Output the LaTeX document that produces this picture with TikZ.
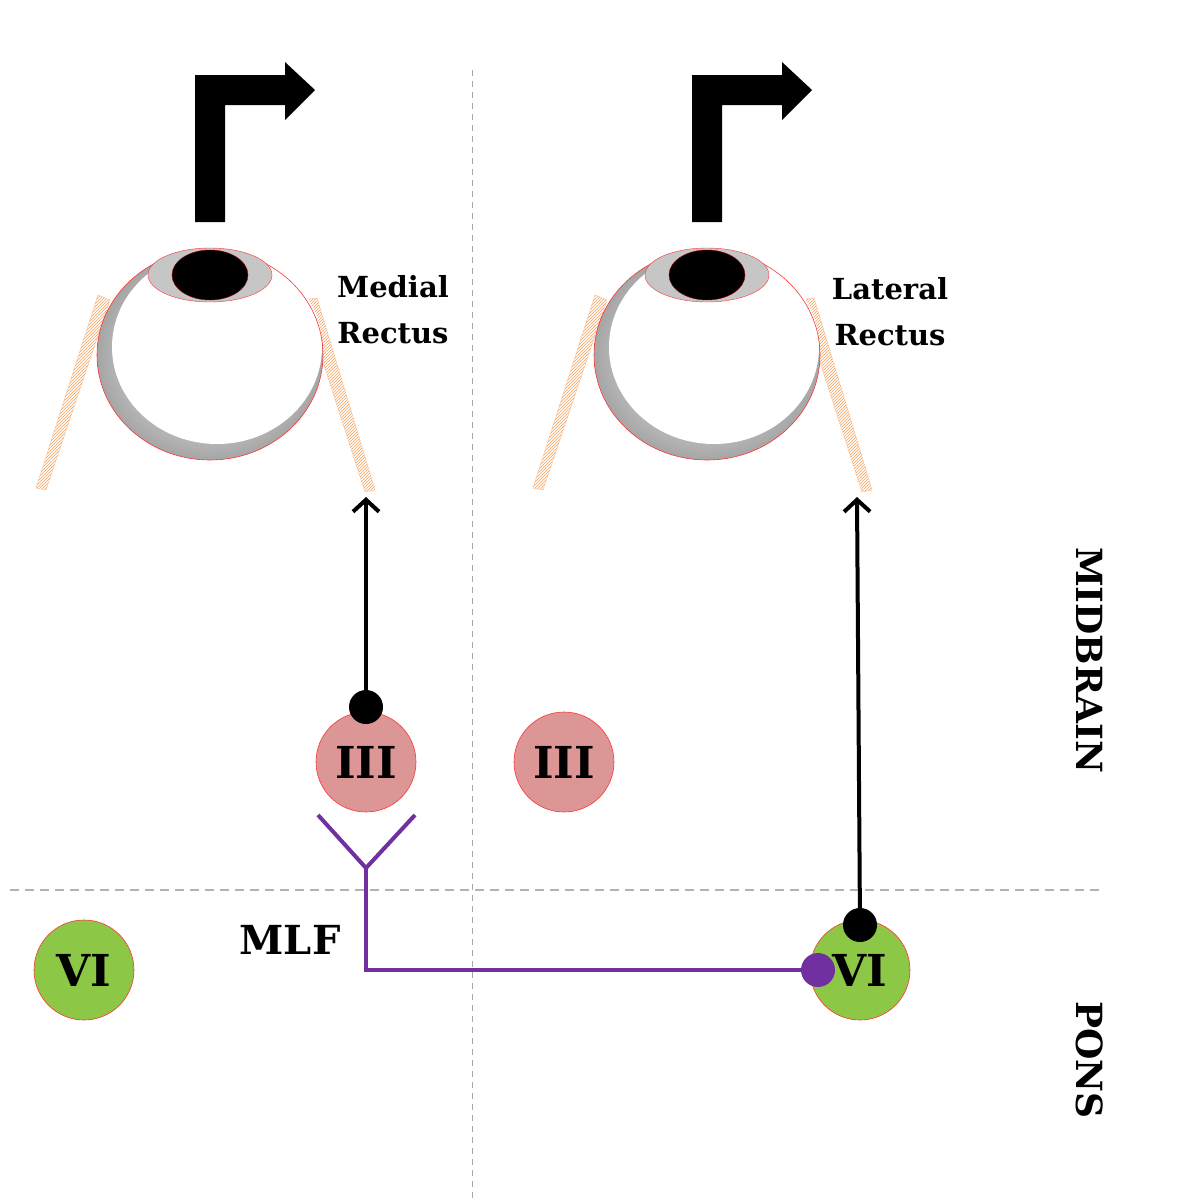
\documentclass[tikz,border=0pt]{standalone}
\usepackage{fontspec}
\setmainfont{DejaVu Serif}
\usetikzlibrary{patterns,arrows.meta}
\definecolor{pinkc}{RGB}{220,150,150}
\definecolor{greenc}{RGB}{140,200,70}
\definecolor{purp}{RGB}{112,48,160}
\definecolor{musc}{RGB}{250,160,90}
\begin{document}
\begin{tikzpicture}[x=1pt,y=-1pt,
  nuc/.style={circle,draw=red!80,line width=0.6pt,minimum size=100pt,inner sep=0pt,font=\fontsize{44}{44}\selectfont\bfseries},
  lab/.style={font=\fontsize{29}{46}\selectfont\bfseries,align=center},
  side/.style={font=\fontsize{36}{36}\selectfont\bfseries,rotate=-90},
  muscle/.style={pattern={north east lines},pattern color=musc,draw=musc!70,line width=0.4pt},
  dot/.style={circle,fill,inner sep=0pt,minimum size=34pt}]
\useasboundingbox (0,0) rectangle (1196,1200);
\fill[white] (0,0) rectangle (1196,1200);
\draw[gray!70,dash pattern=on 6pt off 5pt,line width=1pt] (472,70) -- (472,1200);
\draw[gray!60,dash pattern=on 9pt off 6pt,line width=1.2pt] (10,890) -- (1100,890);
\foreach \dx/\nm in {0/a,497/b}{
 \begin{scope}[xshift=\dx pt]
  \fill (195,222) -- (195,75) -- (285,75) -- (285,62) -- (315,90) -- (285,120) -- (285,105) -- (225,105) -- (225,222) -- cycle;
  \fill[muscle] (98,295) -- (110,300) -- (46,490) -- (36,488) -- cycle;
  \fill[muscle] (303,300) -- (317,298) -- (375,490) -- (365,492) -- cycle;
  \shade[inner color=white,outer color=gray!70] (210,355) ellipse (113pt and 105pt);
  \fill[white] (217,347) ellipse (105pt and 97pt);
  \draw[red!80,line width=0.6pt] (210,355) ellipse (113pt and 105pt);
  \filldraw[fill=gray!45,draw=red!80] (210,275) ellipse (62pt and 27pt);
  \filldraw[fill=black,draw=red!60!black] (210,275) ellipse (38pt and 25pt);
 \end{scope}}
\node[lab] (mr) at (393,310) {Medial\\Rectus};
\node[lab] (lr) at (890,312) {Lateral\\Rectus};
\node[nuc,fill=pinkc] (III1) at (366,762) {III};
\node[nuc,fill=pinkc] (III2) at (564,762) {III};
\node[nuc,fill=greenc] (VI1) at (84,970) {VI};
\node[nuc,fill=greenc] (VI2) at (860,970) {VI};
\coordinate (t1) at (366,497);
\coordinate (t2) at (857,497);
\node[dot] (d1) at (366,707) {};
\node[dot] (d2) at (860,925) {};
\draw[line width=4pt,-{Straight Barb[length=12pt,width=26pt]}] (d1.center) -- (t1);
\draw[line width=4pt,-{Straight Barb[length=12pt,width=26pt]}] (d2.center) -- (t2);
\coordinate (y0) at (366,868);
\coordinate (ya) at (318,815);
\coordinate (yb) at (415,815);
\node[dot,fill=purp] (pd) at (818,970) {};
\draw[purp,line width=4pt] (ya) -- (y0) -- (yb);
\draw[purp,line width=4pt] (y0) -- (366,970) -- (pd.center);
\node[font=\fontsize{40}{40}\selectfont\bfseries] (mlf) at (290,940) {MLF};
\node[side] (mb) at (1090,660) {MIDBRAIN};
\node[side] (pons) at (1090,1060) {PONS};
\end{tikzpicture}
\end{document}
